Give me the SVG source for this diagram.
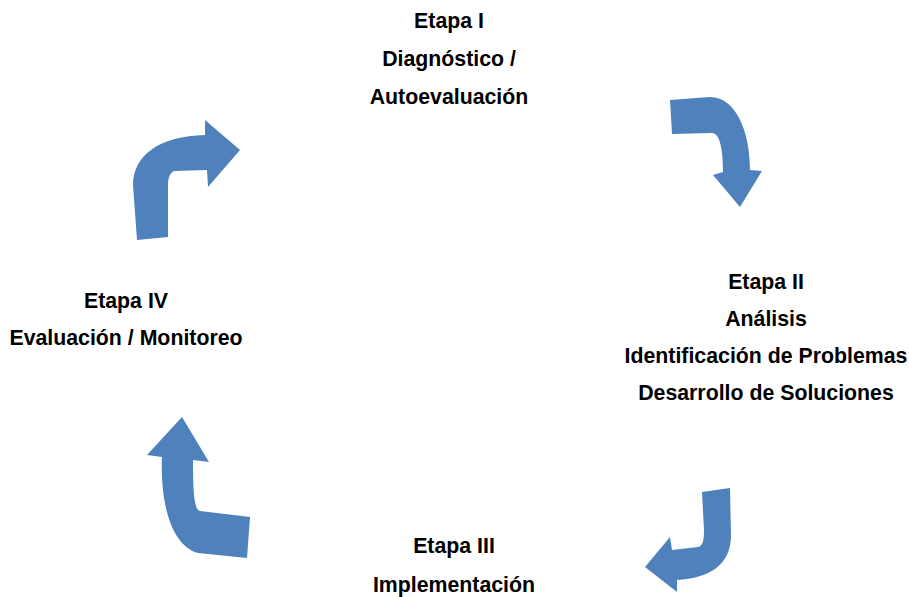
<svg xmlns="http://www.w3.org/2000/svg" width="909" height="597" viewBox="0 0 909 597">
<style>
.lbl{font-family:"Liberation Sans",Arial,sans-serif;font-weight:bold;font-size:21.3px;fill:#000;text-anchor:middle}
.arr{fill:#4F81BD}
</style>
<rect width="909" height="597" fill="#fff"/>
<g id="connectors">
<path class="arr" d="M670,100 L710,97 C735,97 750,130 750,170 L762,171 L740,207 L713,175 L723,172 C723,150 720,133 712,133 L672,134 Z"/>
<path class="arr" d="M702,492 L730,488 L731,535 C731,565 710,578 677,580 L677,592 L645,567 L670,537 L672,550 L698,547 C703,546 704,540 704,530 Z"/>
<path class="arr" d="M182,417 L209,462 L193,460 C193,490 194,510 200,511 L250,517 L247,558 L198,553 C170,545 160,500 162,457 L147,455 Z"/>
<path class="arr" d="M137,240 L133,185 C133,155 160,136 205,135 L205,120 L240,150 L208,187 L207,170 L175,171 C170,172 168,178 168,185 L168,237 Z"/>
</g>
<g id="etapa1">
<text class="lbl" x="449" y="28">Etapa I</text>
<text class="lbl" x="449" y="66">Diagnóstico /</text>
<text class="lbl" x="449" y="104">Autoevaluación</text>
</g>
<g id="etapa2">
<text class="lbl" x="766" y="289">Etapa II</text>
<text class="lbl" x="766" y="326">Análisis</text>
<text class="lbl" x="766" y="363">Identificación de Problemas</text>
<text class="lbl" x="766" y="400">Desarrollo de Soluciones</text>
</g>
<g id="etapa3">
<text class="lbl" x="454" y="553">Etapa III</text>
<text class="lbl" x="454" y="592">Implementación</text>
</g>
<g id="etapa4">
<text class="lbl" x="126" y="308">Etapa IV</text>
<text class="lbl" x="126" y="345">Evaluación / Monitoreo</text>
</g>
</svg>
